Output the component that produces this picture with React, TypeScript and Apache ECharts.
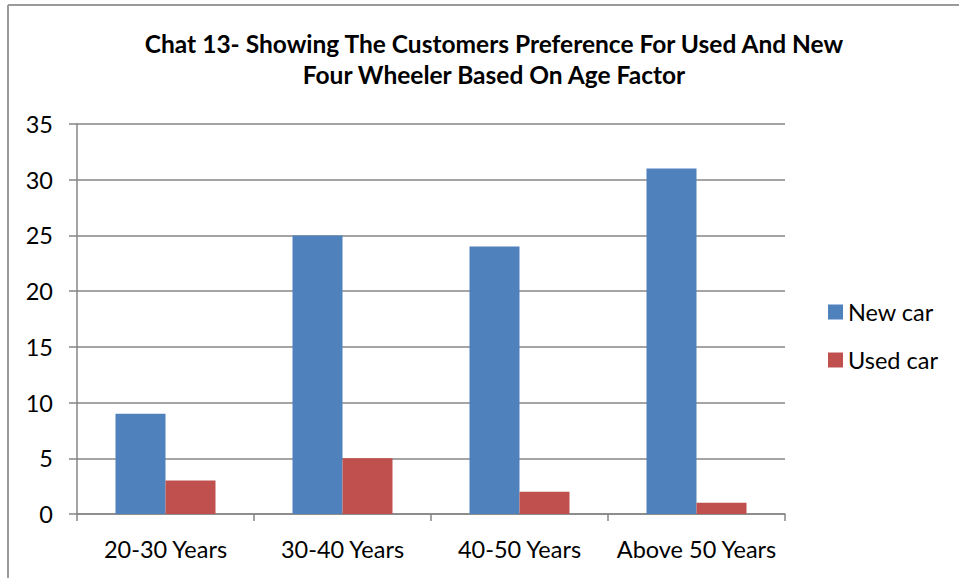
import React, { useEffect, useRef } from "react";
import * as echarts from "echarts";

const titleText = "Chat 13- Showing The Customers Preference For Used And New\nFour Wheeler Based On Age Factor";
const categories = ["20-30 Years", "30-40 Years", "40-50 Years", "Above 50 Years"];
const newCar = [9, 25, 24, 31];
const usedCar = [3, 5, 2, 1];
const seriesNames = ["New car", "Used car"];

const FONT = "Lato, 'Noto Sans', sans-serif";

export default function App() {
  const ref = useRef<HTMLDivElement>(null);
  useEffect(() => {
    const chart = echarts.init(ref.current!, undefined, { renderer: "svg" });
    chart.setOption({
      animation: false,
      backgroundColor: "#ffffff",
      title: {
        text: titleText,
        left: 489,
        textAlign: "center",
        top: 23,
        textStyle: { fontFamily: FONT, fontWeight: "bold", fontSize: 24.5, color: "#000", lineHeight: 31 },
      },
      legend: {
        orient: "vertical",
        left: 828,
        top: 300,
        padding: 0,
        itemWidth: 15,
        itemHeight: 15,
        itemGap: 24,
        icon: "rect",
        textStyle: { fontFamily: FONT, fontSize: 23.5, color: "#000", lineHeight: 24 },
        data: seriesNames,
      },
      grid: { left: 77, right: 174, top: 124, bottom: 64, containLabel: false },
      xAxis: {
        type: "category",
        data: categories,
        axisLine: { lineStyle: { color: "#868686", width: 1.5 } },
        axisTick: { show: true, length: 7, alignWithLabel: false, lineStyle: { color: "#868686", width: 1.5 } },
        axisLabel: { fontFamily: FONT, fontSize: 23.5, color: "#000", margin: 23, interval: 0 },
      },
      yAxis: {
        type: "value",
        min: 0,
        max: 35,
        interval: 5,
        axisLine: { show: true, lineStyle: { color: "#868686", width: 1.5 } },
        axisTick: { show: true, length: 8, lineStyle: { color: "#868686", width: 1.5 } },
        splitLine: { lineStyle: { color: "#868686", width: 1.5 } },
        axisLabel: { fontFamily: FONT, fontSize: 23.5, color: "#000", margin: 24 },
      },
      series: [
        {
          name: seriesNames[0],
          type: "bar",
          data: newCar,
          itemStyle: { color: "#4F81BD" },
          barGap: "0%",
          barCategoryGap: "43.5%",
        },
        {
          name: seriesNames[1],
          type: "bar",
          data: usedCar,
          itemStyle: { color: "#C0504D" },
          barGap: "0%",
          barCategoryGap: "43.5%",
        },
      ],
      graphic: [
        { type: "line", shape: { x1: 8, y1: 5, x2: 959, y2: 5 }, style: { stroke: "#9a9a9a", lineWidth: 2 } },
        { type: "line", shape: { x1: 8, y1: 5, x2: 8, y2: 578 }, style: { stroke: "#9a9a9a", lineWidth: 2 } },
      ],
    });
    return () => chart.dispose();
  }, []);
  return <div ref={ref} style={{ position: "absolute", left: 0, top: 0, width: 959, height: 578 }} />;
}
